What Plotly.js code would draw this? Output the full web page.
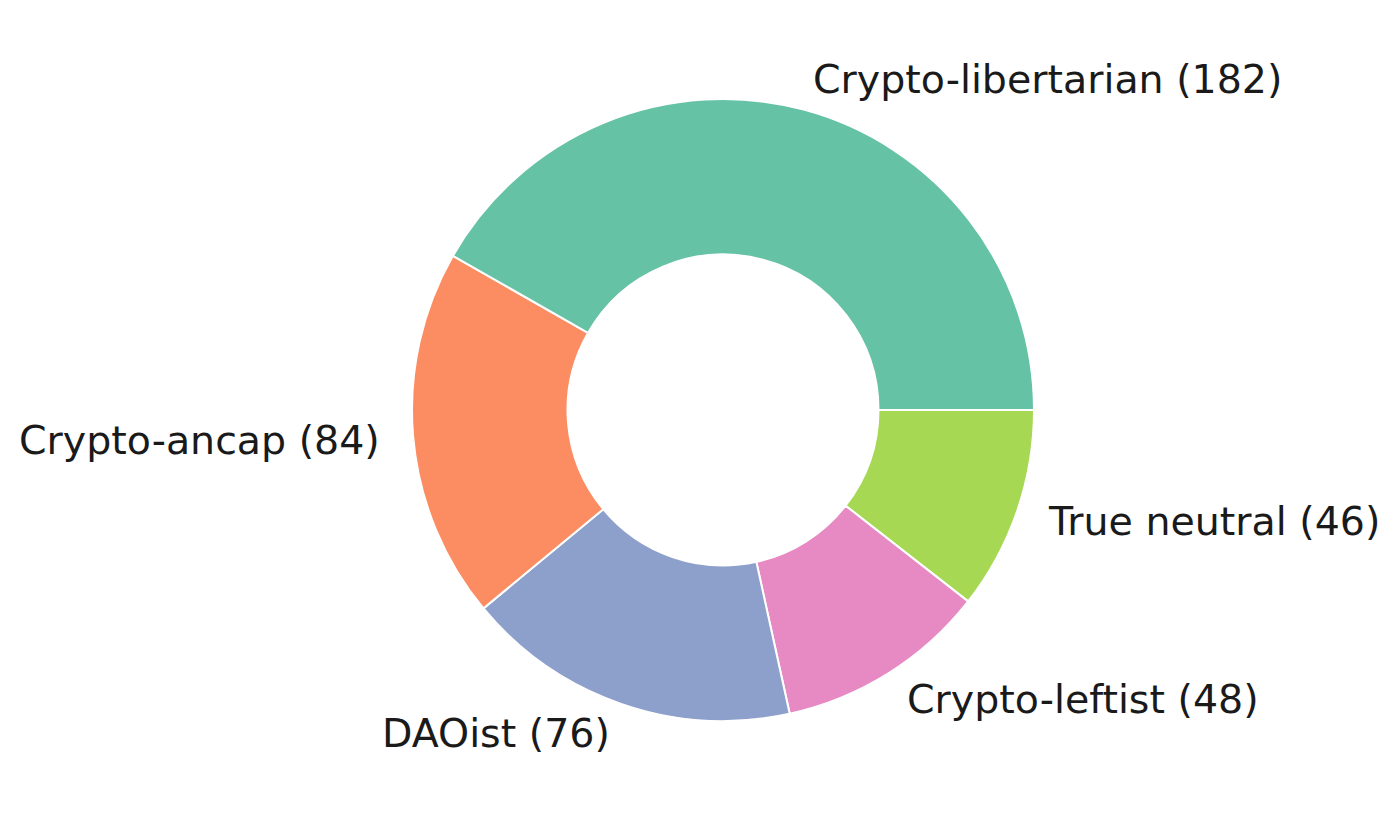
<!DOCTYPE html>
<html><head><meta charset="utf-8">
<script src="https://cdn.plot.ly/plotly-3.0.1.min.js"></script>
<style>html,body{margin:0;padding:0;background:#fff}#c{width:1400px;height:822px}</style>
</head><body><div id="c"></div>
<script>
const categories = ["Crypto-libertarian", "Crypto-ancap", "DAOist", "Crypto-leftist", "True neutral"];
const counts = [182, 84, 76, 48, 46];
const colors = ["#66c2a5", "#fc8d62", "#8da0cb", "#e78ac3", "#a6d854"];
const labelsText = categories.map((c, i) => c + " (" + counts[i] + ")");

const W = 1400, H = 822;
const cx = 723, cy = 410, R = 311;
const labelDist = 1.1;

// matplotlib draws counterclockwise from 3 o'clock; in Plotly the same
// arrangement is the reversed order drawn clockwise from 3 o'clock.
const rev = a => a.slice().reverse();

// labels placed like matplotlib: at 1.1 radius on each slice's middle angle
const total = counts.reduce((a, b) => a + b, 0);
let cum = 0;
const annotations = counts.map((v, i) => {
  const mid = (cum + v / 2) / total * 2 * Math.PI;
  cum += v;
  const dx = labelDist * R * Math.cos(mid);
  const dy = labelDist * R * Math.sin(mid);
  return {
    text: labelsText[i],
    xref: "paper", yref: "paper",
    x: (cx + dx) / W, y: (H - cy + dy) / H,
    xanchor: dx > 0 ? "left" : "right",
    yanchor: "middle",
    showarrow: false,
    font: {family: "DejaVu Sans", size: 39.5, color: "#1a1a1a"}
  };
});

Plotly.newPlot("c", [{
  type: "pie",
  labels: rev(categories),
  values: rev(counts),
  textinfo: "none",
  hole: 0.5,
  sort: false,
  direction: "clockwise",
  rotation: 90,
  marker: {colors: rev(colors), line: {color: "#ffffff", width: 2}},
  domain: {x: [(cx - R) / W, (cx + R) / W], y: [(H - cy - R) / H, (H - cy + R) / H]},
  hoverinfo: "label+value"
}], {
  width: W, height: H,
  margin: {l: 0, r: 0, t: 0, b: 0},
  showlegend: false,
  paper_bgcolor: "#ffffff",
  font: {family: "DejaVu Sans"},
  annotations: annotations
}, {displayModeBar: false, staticPlot: true});
</script></body></html>
